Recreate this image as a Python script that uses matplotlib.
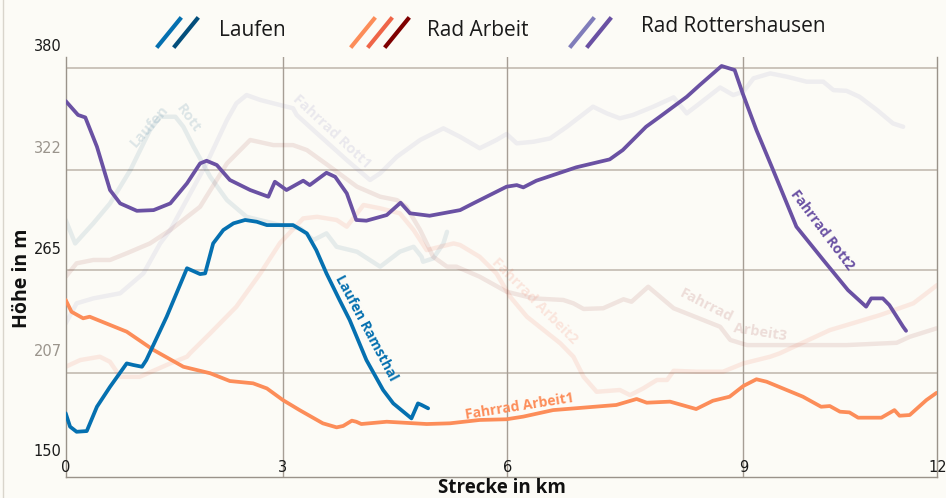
import matplotlib
matplotlib.use("Agg")
import matplotlib.pyplot as plt
from matplotlib.lines import Line2D

# ---- data (km, m) ----
laufen_ramsthal_x = [0.0, 0.06, 0.15, 0.29, 0.43, 0.61, 0.84, 0.93, 1.05, 1.11, 1.39, 1.67, 1.85, 1.92,
                     2.03, 2.17, 2.31, 2.47, 2.63, 2.77, 2.99, 3.13, 3.32, 3.45, 3.59, 3.77, 3.91, 4.14,
                     4.37, 4.51, 4.76, 4.85, 4.90, 4.99]
laufen_ramsthal_y = [183.9, 176.3, 173.4, 173.8, 187.6, 198.9, 212.2, 211.3, 210.3, 214.1, 238.7, 266.2,
                     262.9, 263.3, 280.3, 287.9, 291.7, 293.6, 292.6, 290.7, 290.7, 290.7, 286.0, 276.5,
                     263.3, 248.2, 236.8, 214.1, 197.1, 189.5, 181.0, 189.5, 188.6, 186.7]

laufen_rott_x = [0.0, 0.13, 0.38, 0.61, 0.89, 1.16, 1.30, 1.51, 1.62, 1.76, 1.99, 2.22, 2.49, 2.77, 3.04,
                 3.23, 3.41, 3.59, 3.73, 4.01, 4.33, 4.60, 4.79, 4.90, 4.92, 5.06, 5.20, 5.25]
laufen_rott_y = [293.6, 280.3, 291.7, 303.0, 321.9, 344.6, 352.2, 352.2, 346.5, 335.2, 318.1, 304.9, 295.4,
                 292.6, 289.8, 288.9, 282.2, 286.0, 278.4, 275.6, 267.1, 275.6, 278.4, 272.7, 269.9,
                 271.8, 280.3, 286.9]

arbeit1_x = [0.0, 0.08, 0.24, 0.33, 0.84, 1.21, 1.62, 1.99, 2.26, 2.58, 2.77, 2.99, 3.22, 3.54, 3.73, 3.82,
             3.94, 4.00, 4.07, 4.42, 4.97, 5.29, 5.70, 6.07, 6.30, 6.71, 7.58, 7.86, 8.00, 8.32, 8.68,
             8.91, 9.14, 9.33, 9.51, 9.65, 10.15, 10.40, 10.52, 10.66, 10.79, 10.91, 11.23, 11.41,
             11.48, 11.62, 11.85, 11.99]
arbeit1_y = [248.2, 241.5, 237.8, 238.7, 230.2, 219.8, 210.3, 206.6, 202.2, 200.9, 198.0, 191.4, 185.7,
             178.2, 175.9, 176.7, 179.7, 179.1, 177.8, 179.1, 177.8, 178.2, 180.1, 180.5, 182.0, 185.7,
             188.6, 192.0, 189.9, 190.5, 186.3, 191.0, 193.3, 199.4, 203.2, 201.8, 193.3, 187.6, 188.0,
             184.8, 184.4, 181.4, 181.4, 185.7, 182.5, 182.9, 191.4, 195.5]

arbeit2_x = [0.0, 0.20, 0.47, 0.61, 0.75, 1.02, 1.44, 1.67, 1.71, 1.99, 2.35, 2.68, 2.95, 3.27, 3.46, 3.73,
             3.87, 4.10, 4.33, 4.60, 4.79, 4.97, 5.34, 5.43, 5.70, 5.93, 6.12, 6.35, 6.81, 6.99, 7.13,
             7.31, 7.63, 7.77, 7.95, 8.14, 8.28, 8.37, 8.69, 9.05, 9.33, 9.70, 9.83, 10.52, 11.21,
             11.67, 12.0]
arbeit2_y = [210.3, 214.1, 216.0, 213.1, 204.6, 204.6, 212.2, 216.0, 217.9, 229.3, 244.4, 263.3, 280.5,
             294.5, 295.4, 293.6, 289.8, 302.1, 300.2, 297.4, 287.9, 276.5, 280.3, 279.4, 272.7, 263.3,
             250.0, 238.7, 223.6, 216.0, 204.6, 196.1, 197.1, 194.2, 198.0, 202.8, 202.8, 208.0, 207.5,
             207.5, 212.2, 216.0, 217.9, 231.1, 239.6, 246.3, 256.7]

arbeit3_x = [0.0, 0.15, 0.38, 0.61, 0.84, 1.16, 1.44, 1.85, 2.22, 2.54, 2.86, 3.13, 3.32, 3.64, 4.01, 4.33,
             4.56, 4.69, 4.88, 5.06, 5.25, 5.38, 5.70, 6.07, 6.44, 6.85, 6.99, 7.13, 7.40, 7.68, 7.79,
             8.02, 8.37, 9.01, 9.15, 9.38, 10.06, 10.75, 11.44, 11.62, 11.99]
arbeit3_y = [261.4, 269.0, 270.9, 270.9, 274.7, 280.3, 287.9, 301.1, 325.7, 339.0, 336.1, 336.1, 333.3,
             323.8, 312.5, 306.8, 304.9, 301.1, 287.9, 272.7, 267.1, 267.1, 261.4, 252.9, 249.1, 248.2,
             246.3, 243.1, 243.5, 248.6, 247.2, 255.7, 243.5, 233.0, 225.5, 222.6, 222.6, 222.6, 223.9,
             227.3, 232.1]

rott1_x = [0.0, 0.15, 0.38, 0.75, 1.07, 1.30, 1.44, 1.94, 2.22, 2.35, 2.49, 2.68, 2.86, 3.13, 3.18, 3.41,
           3.87, 4.19, 4.33, 4.56, 4.88, 5.20, 5.43, 5.70, 5.93, 6.07, 6.21, 6.44, 6.67, 6.90, 7.08, 7.26,
           7.45, 7.63, 7.81, 8.09, 8.37, 8.55, 8.73, 9.01, 9.19, 9.33, 9.47, 9.70, 9.93, 10.20, 10.43,
           10.57, 10.75, 10.93, 11.17, 11.39, 11.53]
rott1_y = [234.9, 246.3, 249.1, 252.0, 263.3, 280.3, 287.9, 325.7, 350.3, 359.8, 364.5, 361.7, 359.8, 357.0,
           353.2, 344.6, 327.6, 316.3, 320.1, 329.5, 339.0, 345.6, 340.8, 334.3, 339.0, 342.4, 337.1,
           338.0, 339.9, 346.5, 352.2, 357.9, 354.1, 351.3, 353.2, 357.9, 363.2, 354.1, 359.8, 368.8,
           364.5, 366.4, 374.0, 376.8, 374.9, 372.1, 372.1, 367.3, 366.9, 363.5, 356.0, 348.4, 346.5]

rott2_x = [0.0, 0.17, 0.27, 0.43, 0.61, 0.75, 0.98, 1.21, 1.44, 1.67, 1.85, 1.94, 2.08, 2.26, 2.54, 2.79,
           2.88, 3.04, 3.27, 3.36, 3.59, 3.71, 3.87, 4.00, 4.14, 4.42, 4.61, 4.74, 5.01, 5.43, 5.61, 6.07,
           6.21, 6.30, 6.48, 7.03, 7.49, 7.67, 7.99, 8.18, 8.55, 8.73, 9.03, 9.21, 9.32, 9.51, 9.74,
           10.06, 10.43, 10.77, 11.02, 11.09, 11.25, 11.34, 11.53, 11.57]
rott2_y = [361.1, 353.2, 351.8, 335.2, 310.6, 303.0, 298.8, 299.2, 303.0, 314.4, 325.7, 327.2, 324.8, 316.3,
           310.6, 306.8, 315.3, 310.6, 315.9, 313.4, 320.4, 318.1, 308.7, 293.6, 293.2, 296.4, 303.4,
           297.4, 296.0, 299.2, 303.0, 312.5, 313.4, 312.1, 315.9, 323.5, 328.0, 333.3, 346.5, 352.2,
           363.5, 370.2, 381.0, 378.7, 365.5, 344.6, 321.9, 289.8, 270.9, 253.8, 244.4, 249.1, 249.1,
           245.3, 233.0, 230.7]

ytick_vals = [380, 322, 265, 207, 150]
xtick_pos = [0, 2.99, 6.08, 9.33, 12]
xtick_labels = ["0", "3", "6", "9", "12"]

legend_groups = ["Laufen", "Rad Arbeit", "Rad Rottershausen"]
legend_colors = [["#0570b0", "#034e7b"], ["#fc8d59", "#ef6548", "#7f0000"], ["#807dba", "#6a51a3"]]

bg = "#fcfbf6"
font = ["Open Sans", "DejaVu Sans"]

fig = plt.figure(figsize=(9.46, 4.98), dpi=100, facecolor=bg)
W, H = 946, 498
ax = fig.add_axes([65.7 / W, 1 - 476.7 / H, (937.3 - 65.7) / W, (476.7 - 57) / H])
ax.set_facecolor(bg)
ax.set_xlim(0, 12)
ax.set_ylim(147.9, 386.1)

# grid
for v in ytick_vals[:-1]:
    ax.axhline(v, color="#cbc4bb", lw=1.4, zorder=0.5)
for v in xtick_pos[1:-1]:
    ax.axvline(v, color="#a69e95", lw=1.0, zorder=0.5)
for s in ["left", "bottom", "right"]:
    ax.spines[s].set_color("#9a938a")
    ax.spines[s].set_linewidth(1.0)
ax.spines["top"].set_visible(False)
ax.set_xticks([])
ax.set_yticks([])

# faded tracks
faded = [
    (laufen_rott_x, laufen_rott_y, "#034e7b", 0.09),
    (rott1_x, rott1_y, "#807dba", 0.11),
    (arbeit3_x, arbeit3_y, "#7f0000", 0.09),
    (arbeit2_x, arbeit2_y, "#ef6548", 0.12),
]
for xs, ys, c, a in faded:
    ax.plot(xs, ys, color=c, alpha=a, lw=3.2, solid_capstyle="round",
            solid_joinstyle="round", zorder=1)

# main tracks
for xs, ys, c in [(arbeit1_x, arbeit1_y, "#fc8d59"),
                  (laufen_ramsthal_x, laufen_ramsthal_y, "#0570b0"),
                  (rott2_x, rott2_y, "#6a51a3")]:
    ax.plot(xs, ys, color=c, lw=2.7, solid_capstyle="round", solid_joinstyle="round", zorder=3)

# track labels
def label(x, y, s, rot, color, alpha=1.0, size=10):
    ax.text(x, y, s, rotation=rot, rotation_mode="anchor", ha="center", va="center",
            color=color, alpha=alpha, fontsize=size, fontweight="bold", family=font, zorder=4)

label(4.13, 232.3, "Laufen Ramsthal", -62, "#0570b0")
label(6.25, 187.8, "Fahrrad Arbeit1", 9, "#fc8d59")
label(10.41, 287.9, "Fahrrad Rott2", -53, "#6a51a3")
label(1.15, 346.9, "Laufen", 49, "#034e7b", 0.13, 10.5)
label(1.68, 351.5, "Rott", -54, "#034e7b", 0.13, 10.5)
label(3.66, 343.7, "Fahrrad Rott1", -43, "#807dba", 0.15, 10.5)
label(6.45, 247.6, "Fahrrad Arbeit2", -45, "#ef6548", 0.15, 10.5)
label(8.82, 245.0, "Fahrrad", -27, "#7f0000", 0.12, 10.5)
label(9.56, 230.0, "Arbeit3", -9, "#7f0000", 0.12, 10.5)

# tick labels
for i, v in enumerate(ytick_vals):
    c = "#1a1a1a" if i % 2 == 0 else "#9a948c"
    ax.annotate(str(v), xy=(0, v), xycoords=("axes fraction", "data"), xytext=(-4, 21),
                textcoords="offset pixels", ha="right", va="center", fontsize=10.5,
                color=c, family="DejaVu Sans", annotation_clip=False)
for p, t in zip(xtick_pos, xtick_labels):
    ax.annotate(t, xy=(p, 0), xycoords=("data", "axes fraction"), xytext=(0, 9),
                textcoords="offset pixels", ha="center", va="center", fontsize=10.5,
                color="#1a1a1a", family="DejaVu Sans", annotation_clip=False)

fig.text(22 / W, 1 - 278 / H, "Höhe in m", rotation=90, ha="center", va="center",
         fontsize=14, fontweight="bold", family=font, color="#111111")
fig.text(502 / W, 1 - 488 / H, "Strecke in km", ha="center", va="center",
         fontsize=13.5, fontweight="bold", family=font, color="#111111")

# legend: slashes + names
slash_starts = [158, 352, 571]
text_x = [219, 427, 641]
text_y = [31, 30, 26]
for g, cols, sx, tx, ty in zip(legend_groups, legend_colors, slash_starts, text_x, text_y):
    for k, c in enumerate(cols):
        x0 = sx + k * 17
        fig.add_artist(Line2D([x0 / W, (x0 + 22) / W], [1 - 46 / H, 1 - 19 / H],
                              color=c, lw=3, transform=fig.transFigure))
    fig.text(tx / W, 1 - ty / H, g, ha="left", va="center", fontsize=15,
             family=font, color="#1a1a1a")

# thin frame line on the left edge
fig.add_artist(Line2D([2.5 / W, 2.5 / W], [0, 1], color="#d9d5cc", lw=1, transform=fig.transFigure))

fig.savefig("out.png", dpi=100, facecolor=bg)
